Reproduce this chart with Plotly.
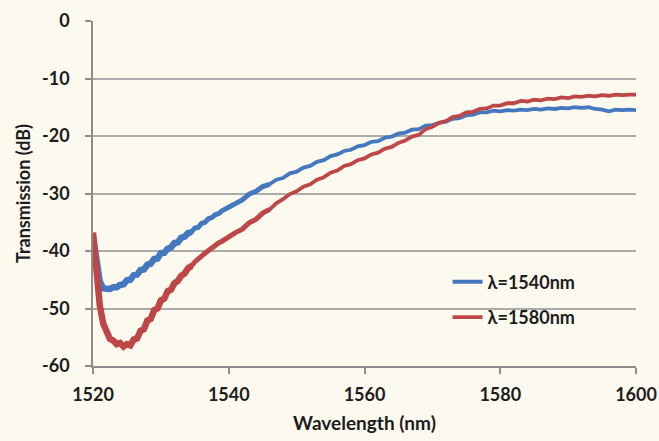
import plotly.graph_objects as go

# ---- data ----
wavelength = [1520, 1520.5, 1521, 1521.5, 1522, 1522.5, 1523, 1523.5, 1524, 1524.5,
              1525, 1525.5, 1526, 1526.5, 1527, 1527.5, 1528, 1528.5, 1529, 1529.5,
              1530, 1530.5, 1531, 1531.5, 1532, 1532.5, 1533, 1533.5, 1534, 1534.5,
              1535, 1535.5, 1536, 1536.5, 1537, 1537.5, 1538, 1538.5, 1539, 1539.5] + list(range(1540, 1601))

blue_1540 = [-37.5, -42.0, -45.3, -46.5, -46.6, -46.6, -46.3, -46.3, -45.9, -45.8,
             -45.1, -45.0, -44.2, -44.1, -43.3, -43.2, -42.4, -42.2, -41.4, -41.3,
             -40.4, -40.3, -39.6, -39.4, -38.6, -38.5, -37.7, -37.5, -36.9, -36.7,
             -36.0, -35.9, -35.2, -35.0, -34.4, -34.2, -33.7, -33.5, -33.0, -32.7,
             -32.4, -31.6, -31.1, -30.1, -29.6, -28.8, -28.4, -27.6, -27.3, -26.5,
             -26.2, -25.5, -25.2, -24.5, -24.2, -23.5, -23.2, -22.6, -22.4, -21.8,
             -21.6, -21.0, -20.9, -20.3, -20.1, -19.6, -19.4, -18.9, -18.8, -18.2,
             -18.1, -17.7, -17.5, -17.0, -16.9, -16.4, -16.3, -15.9, -15.9, -15.6,
             -15.7, -15.5, -15.6, -15.4, -15.5, -15.3, -15.4, -15.2, -15.3, -15.1,
             -15.2, -15.0, -15.1, -15.0, -15.3, -15.4, -15.7, -15.4, -15.5, -15.4,
             -15.5]

red_1580 = [-36.8, -44.0, -49.5, -52.6, -54.3, -55.3, -55.6, -56.2, -56.0, -56.6,
            -56.2, -56.4, -55.4, -55.2, -53.9, -53.6, -52.1, -51.8, -50.3, -50.0,
            -48.6, -48.3, -47.0, -46.7, -45.6, -45.2, -44.3, -43.9, -43.0, -42.6,
            -41.9, -41.5, -40.9, -40.4, -39.9, -39.5, -39.1, -38.6, -38.3, -37.9,
            -37.6, -36.8, -36.2, -35.1, -34.5, -33.4, -32.8, -31.7, -31.0, -30.1,
            -29.6, -28.8, -28.4, -27.6, -27.2, -26.4, -26.0, -25.2, -24.9, -24.2,
            -23.9, -23.2, -22.9, -22.2, -21.9, -21.2, -20.8, -20.1, -19.8, -18.8,
            -18.4, -17.7, -17.4, -16.7, -16.5, -15.9, -15.8, -15.3, -15.2, -14.7,
            -14.7, -14.3, -14.3, -13.9, -14.0, -13.7, -13.8, -13.5, -13.6, -13.3,
            -13.4, -13.1, -13.2, -13.0, -13.1, -12.9, -13.0, -12.8, -12.9, -12.8,
            -12.8]

x_ticks = [1520, 1540, 1560, 1580, 1600]
y_ticks = [0, -10, -20, -30, -40, -50, -60]

series_names = ["λ=1540nm", "λ=1580nm"]
series_colors = ["#4478BF", "#BF4646"]
series_values = [blue_1540, red_1580]

# the measured traces are noisier (thicker) at short wavelengths
segments = [(1520, 1534.5, 6.5), (1534, 1546, 5.0), (1545, 1600, 3.8)]

BG = "#FCF9EF"
FONT = "Lato"
TXT = "#1C1C1C"

fig = go.Figure()
for si, (lo, hi, w) in enumerate(segments):
    for k in range(2):
        xs = [x for x in wavelength if lo <= x <= hi]
        ys = [y for x, y in zip(wavelength, series_values[k]) if lo <= x <= hi]
        last = si == len(segments) - 1
        fig.add_trace(go.Scatter(
            x=xs, y=ys, mode="lines", name=series_names[k],
            legendgroup=series_names[k], showlegend=last,
            legendrank=k + 1, hoverinfo="x+y",
            line=dict(color=series_colors[k], width=w)))

fig.update_layout(
    width=659, height=441,
    margin=dict(l=93, r=23, t=21, b=75),
    paper_bgcolor=BG, plot_bgcolor=BG,
    font=dict(family=FONT, color=TXT, size=18),
    legend=dict(x=0.653, y=0.297, xanchor="left", yanchor="top",
                bgcolor="rgba(0,0,0,0)", font=dict(size=18, family=FONT, weight="bold", color=TXT),
                traceorder="grouped", tracegroupgap=9, itemwidth=30),
    showlegend=True,
)
fig.update_xaxes(
    range=[1520, 1600], tickvals=x_ticks, ticktext=[str(v) for v in x_ticks],
    showgrid=False, zeroline=False, automargin=False,
    showline=True, linecolor="#8C8C8C", linewidth=1.5,
    ticks="outside", ticklen=6, tickcolor="#8C8C8C", tickwidth=1.5,
    ticklabelstandoff=6,
    tickfont=dict(size=18, family=FONT, weight="bold", color=TXT),
    title=dict(text="Wavelength (nm)", font=dict(size=19, family=FONT, weight="bold", color=TXT), standoff=12),
)
fig.update_yaxes(
    range=[-60, 0], tickvals=y_ticks, ticktext=[str(v) for v in y_ticks],
    showgrid=True, gridcolor="#ABABAB", gridwidth=1.5, zeroline=False, automargin=False,
    showline=True, linecolor="#8C8C8C", linewidth=1.5,
    ticks="outside", ticklen=6, tickcolor="#8C8C8C", tickwidth=1.5,
    ticklabelstandoff=12,
    tickfont=dict(size=18, family=FONT, weight="bold", color=TXT),
    title=dict(text="Transmission (dB)", font=dict(size=18, family=FONT, weight="bold", color=TXT), standoff=7),
)

# remove the page's default body margin so the figure fills the window exactly
fig.write_html(
    "out.html",
    config={"displayModeBar": False},
    post_script="document.body.style.margin='0';document.body.style.overflow='hidden';"
                "document.body.style.background='" + BG + "';",
)
